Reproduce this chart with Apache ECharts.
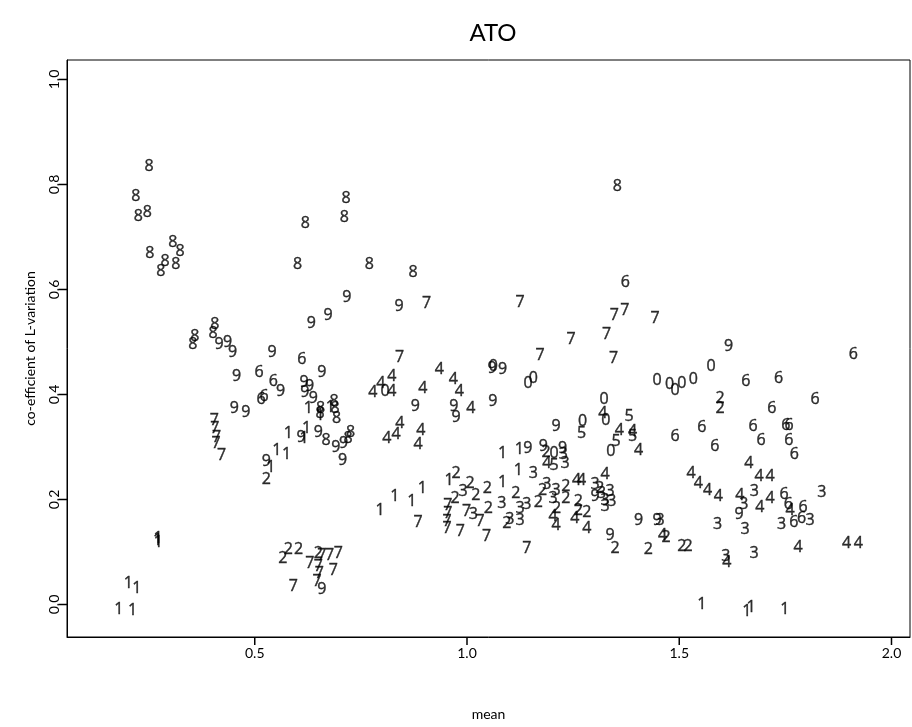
<!DOCTYPE html>
<html>
<head>
<meta charset="utf-8">
<script src="https://cdn.jsdelivr.net/npm/echarts@6/dist/echarts.min.js"></script>
<style>
html,body{margin:0;padding:0;background:#fff;}
#chart{width:912px;height:727px;}
</style>
</head>
<body>
<div id="chart"></div>
<script>
// Digit labels (site groups) used as plotting symbols
const labels = ['0','1','2','3','4','5','6','7','8','9'];
const xTicks = [0.5, 1.0, 1.5, 2.0];
const yTicks = [0.0, 0.2, 0.4, 0.6, 0.8, 1.0];

// [mean, co-efficient of L-variation] for each group
const pts0 = [[1.448,0.426],[1.477,0.420],[1.506,0.422],[1.490,0.407],[1.533,0.429],[1.575,0.453],[1.156,0.431],[1.144,0.421],[0.807,0.405],[1.323,0.390],[1.327,0.350],[1.272,0.348],[1.339,0.291],[1.205,0.287],[1.062,0.454]];
const pts1 = [[0.626,0.374],[0.654,0.361],[0.678,0.376],[0.579,0.325],[0.622,0.336],[0.616,0.317],[0.552,0.294],[0.575,0.285],[0.538,0.262],[0.795,0.180],[0.830,0.205],[0.870,0.196],[0.895,0.221],[0.958,0.237],[1.084,0.232],[1.084,0.287],[1.123,0.296],[1.121,0.256],[0.272,0.125],[0.273,0.119],[0.271,0.122],[0.202,0.040],[0.222,0.031],[0.180,-0.010],[0.212,-0.012],[1.553,0.001],[1.659,-0.014],[1.669,-0.006],[1.749,-0.009]];
const pts2 = [[1.596,0.393],[1.596,0.374],[0.527,0.238],[0.974,0.249],[1.007,0.231],[1.048,0.221],[1.021,0.208],[0.972,0.202],[1.115,0.212],[1.050,0.183],[1.094,0.155],[1.168,0.194],[1.178,0.218],[1.233,0.224],[1.233,0.202],[1.262,0.196],[1.211,0.183],[1.262,0.180],[1.282,0.176],[1.313,0.221],[1.349,0.106],[1.427,0.104],[1.469,0.128],[1.506,0.110],[1.521,0.111],[0.579,0.104],[0.603,0.104],[0.566,0.088],[0.650,0.098],[1.186,0.289]];
const pts3 = [[1.677,0.215],[1.652,0.190],[1.836,0.213],[1.455,0.160],[1.590,0.153],[1.655,0.143],[1.741,0.153],[1.808,0.161],[1.610,0.091],[1.676,0.098],[1.156,0.250],[1.231,0.268],[1.227,0.285],[0.991,0.215],[1.082,0.193],[1.015,0.172],[1.125,0.183],[1.141,0.190],[1.125,0.161],[1.188,0.228],[1.210,0.218],[1.203,0.202],[1.302,0.228],[1.337,0.215],[1.317,0.212],[1.325,0.199],[1.341,0.196],[1.325,0.186],[1.101,0.162]];
const pts4 = [[0.935,0.448],[0.823,0.435],[0.797,0.422],[0.778,0.403],[0.823,0.405],[0.896,0.412],[0.968,0.429],[0.982,0.405],[1.009,0.374],[0.842,0.344],[0.833,0.323],[0.811,0.317],[0.891,0.332],[0.885,0.304],[1.320,0.364],[1.359,0.332],[1.390,0.329],[1.404,0.294],[1.188,0.268],[1.258,0.237],[1.270,0.236],[1.325,0.247],[1.203,0.167],[1.210,0.151],[1.254,0.164],[1.282,0.145],[1.664,0.269],[1.688,0.243],[1.714,0.243],[1.528,0.249],[1.545,0.231],[1.567,0.218],[1.592,0.205],[1.643,0.207],[1.714,0.202],[1.690,0.185],[1.761,0.180],[1.461,0.132],[1.612,0.080],[1.780,0.109],[1.894,0.117],[1.922,0.117]];
const pts5 = [[1.270,0.325],[1.382,0.359],[1.390,0.320],[1.351,0.310],[1.205,0.264]];
const pts6 = [[1.373,0.614],[0.611,0.467],[0.510,0.442],[0.544,0.424],[0.522,0.397],[0.515,0.391],[1.910,0.477],[1.657,0.424],[1.734,0.431],[1.718,0.374],[1.820,0.391],[1.490,0.321],[1.553,0.338],[1.584,0.302],[1.674,0.340],[1.751,0.342],[1.759,0.342],[1.693,0.312],[1.758,0.313],[1.771,0.286],[1.747,0.209],[1.757,0.190],[1.792,0.184],[1.770,0.156],[1.788,0.164]];
const pts7 = [[0.905,0.574],[1.125,0.575],[1.372,0.561],[1.347,0.550],[1.329,0.515],[1.443,0.545],[1.245,0.504],[1.172,0.475],[1.345,0.469],[0.841,0.471],[0.405,0.351],[0.406,0.336],[0.410,0.318],[0.409,0.306],[0.422,0.283],[0.885,0.156],[0.955,0.188],[0.955,0.174],[0.953,0.159],[0.953,0.144],[0.984,0.139],[0.999,0.177],[1.031,0.158],[1.046,0.129],[1.141,0.107],[0.630,0.078],[0.658,0.094],[0.676,0.094],[0.697,0.098],[0.650,0.072],[0.652,0.059],[0.685,0.064],[0.591,0.035],[0.647,0.043]];
const pts8 = [[0.251,0.835],[0.220,0.778],[0.226,0.740],[0.247,0.747],[0.253,0.669],[0.307,0.689],[0.324,0.673],[0.289,0.653],[0.314,0.647],[0.279,0.635],[0.715,0.774],[0.711,0.738],[0.619,0.726],[0.601,0.648],[0.770,0.648],[0.873,0.632],[1.354,0.796],[0.406,0.534],[0.402,0.517],[0.359,0.510],[0.354,0.496],[0.655,0.374],[0.654,0.364],[0.687,0.386],[0.689,0.374],[0.693,0.355],[0.668,0.313],[0.726,0.327],[0.720,0.317]];
const pts9 = [[0.717,0.585],[0.673,0.550],[0.633,0.536],[0.840,0.567],[0.416,0.496],[0.436,0.499],[0.448,0.480],[0.541,0.480],[0.658,0.442],[0.457,0.434],[0.561,0.405],[0.616,0.423],[0.629,0.416],[0.618,0.404],[0.638,0.393],[0.452,0.374],[0.479,0.366],[0.609,0.318],[0.650,0.328],[0.709,0.306],[0.691,0.299],[0.707,0.275],[0.527,0.272],[0.878,0.378],[0.969,0.378],[0.974,0.357],[1.061,0.386],[1.059,0.450],[1.084,0.448],[1.210,0.340],[1.143,0.298],[1.180,0.301],[1.225,0.298],[1.616,0.491],[1.302,0.205],[1.337,0.132],[1.404,0.160],[1.448,0.161],[1.641,0.172],[0.658,0.028]];

const groups = [pts0, pts1, pts2, pts3, pts4, pts5, pts6, pts7, pts8, pts9];
const FONT = 'Lato, "Open Sans", sans-serif';
const MARK_FONT = '"Open Sans", Lato, sans-serif';
const X_MIN = 0.0577, X_MAX = 2.0436;
const Y_MIN = -0.0619, Y_MAX = 1.0371;

const chart = echarts.init(document.getElementById('chart'), null, {renderer: 'canvas'});
const series = groups.map((g, i) => ({
  type: 'scatter',
  name: labels[i],
  data: g,
  symbol: 'circle',
  symbolSize: 1,
  silent: true,
  itemStyle: {color: 'rgba(0,0,0,0)'},
  label: {
    show: true,
    position: 'inside',
    formatter: labels[i],
    color: '#000',
    fontFamily: MARK_FONT,
    fontSize: 16,
    textBorderColor: '#000',
    textBorderWidth: 0.4,
    align: 'center',
    verticalAlign: 'middle'
  },
  emphasis: {disabled: true}
}));

// Outward tick marks, placed through the axes' own scales
series.push({
  type: 'custom',
  silent: true,
  clip: false,
  z: 10,
  data: xTicks.map(v => [v, Y_MIN]),
  renderItem: (params, api) => {
    const p = api.coord([api.value(0), Y_MIN]);
    return {type: 'line', shape: {x1: p[0], y1: p[1], x2: p[0], y2: p[1] + 8}, style: {stroke: '#000', lineWidth: 1.5}};
  }
});
series.push({
  type: 'custom',
  silent: true,
  clip: false,
  z: 10,
  data: yTicks.map(v => [X_MIN, v]),
  renderItem: (params, api) => {
    const p = api.coord([X_MIN, api.value(1)]);
    return {type: 'line', shape: {x1: p[0], y1: p[1], x2: p[0] - 8, y2: p[1]}, style: {stroke: '#000', lineWidth: 1.5}};
  }
});

chart.setOption({
  animation: false,
  backgroundColor: '#fff',
  title: {
    text: 'ATO',
    left: 488,
    top: 16,
    textAlign: 'center',
    textStyle: {fontFamily: FONT, fontSize: 24, fontWeight: 'normal', color: '#000'}
  },
  grid: {
    left: 67, right: 2, top: 60, bottom: 90,
    show: true, borderColor: '#000', borderWidth: 1, backgroundColor: 'transparent'
  },
  xAxis: {
    type: 'value',
    position: 'bottom',
    min: X_MIN, max: X_MAX,
    name: 'mean',
    nameLocation: 'middle',
    nameGap: 70,
    nameTextStyle: {fontFamily: FONT, fontSize: 14, color: '#000'},
    splitLine: {show: false},
    axisLine: {show: true, onZero: false, lineStyle: {color: '#000', width: 1}},
    axisTick: {show: false},
    axisLabel: {show: true, customValues: xTicks, formatter: v => v.toFixed(1), color: '#000', fontFamily: FONT, fontSize: 14, margin: 9}
  },
  yAxis: {
    type: 'value',
    position: 'left',
    min: Y_MIN, max: Y_MAX,
    name: 'co-efficient of L-variation',
    nameLocation: 'middle',
    nameGap: 30,
    nameRotate: 90,
    nameTextStyle: {fontFamily: FONT, fontSize: 14, color: '#000'},
    splitLine: {show: false},
    axisLine: {show: true, onZero: false, lineStyle: {color: '#000', width: 1}},
    axisTick: {show: false},
    axisLabel: {show: true, customValues: yTicks, formatter: v => v.toFixed(1), rotate: 90, color: '#000', fontFamily: FONT, fontSize: 14, margin: 6}
  },
  series: series
});
</script>
</body>
</html>
